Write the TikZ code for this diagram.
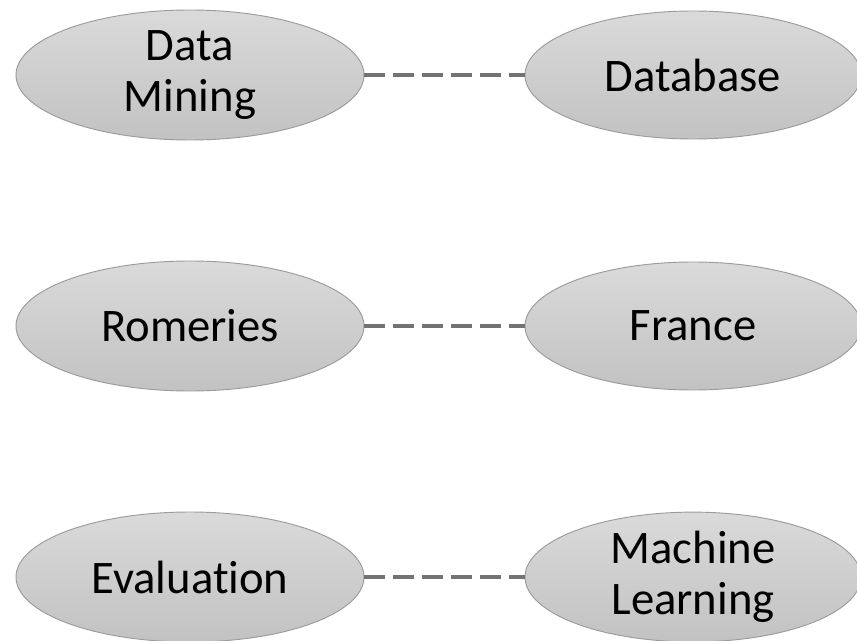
\documentclass[tikz,border=0pt]{standalone}
\usepackage{fontspec}
\setmainfont[Ligatures=NoCommon]{Carlito}
\usetikzlibrary{shapes.geometric}

\definecolor{blobtop}{RGB}{218,218,218}
\definecolor{blobbot}{RGB}{194,194,194}
\definecolor{blobline}{RGB}{155,155,155}
\definecolor{linkgray}{RGB}{115,115,115}

\tikzset{
  blob/.style={ellipse, draw=blobline, line width=0.7pt, top color=blobtop, bottom color=blobbot,
    align=center, inner sep=0pt, font=\fontsize{35}{38.5}\selectfont},
  leftblob/.style={blob, minimum width=261pt, minimum height=97.5pt},
  rightblob/.style={blob, minimum width=252pt, minimum height=96pt},
  link/.style={draw=linkgray, line width=2.4pt, dash pattern=on 15.75pt off 6pt}
}

\begin{document}
\begin{tikzpicture}[x=0.75pt,y=0.75pt]
    % Page frame
    \useasboundingbox (0,0) rectangle (857,640);

    % Left column
    \node[leftblob] (dm) at (190,565) {Data\\Mining};
    \node[leftblob] (rom) at (190,314) {Romeries};
    \node[leftblob] (ev) at (190,63) {Evaluation};

    % Right column
    \node[rightblob] (db) at (693,565) {Database};
    \node[rightblob] (fr) at (693,314) {France};
    \node[rightblob] (ml) at (693,63) {Machine\\Learning};

    % Dashed links between the pairs
    \draw[link] (dm.east) -- (db.west);
    \draw[link] (rom.east) -- (fr.west);
    \draw[link] (ev.east) -- (ml.west);
\end{tikzpicture}
\end{document}
